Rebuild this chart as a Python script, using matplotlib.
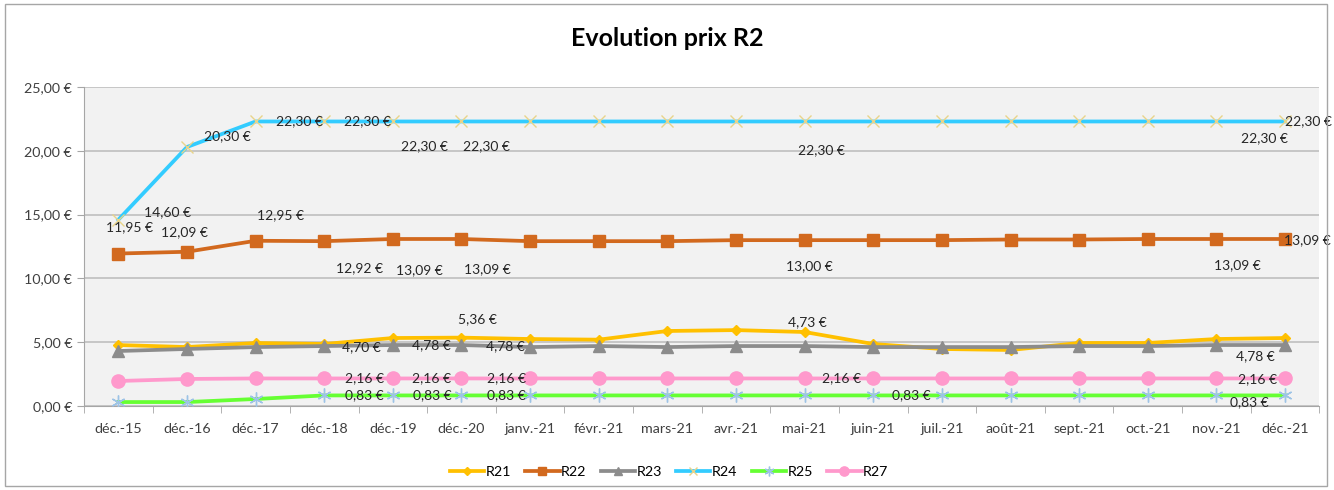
import matplotlib.pyplot as plt
from matplotlib.patches import Rectangle

months = ['déc.-15', 'déc.-16', 'déc.-17', 'déc.-18', 'déc.-19', 'déc.-20',
          'janv.-21', 'févr.-21', 'mars-21', 'avr.-21', 'mai-21', 'juin-21',
          'juil.-21', 'août-21', 'sept.-21', 'oct.-21', 'nov.-21', 'déc.-21']

r21 = [4.78, 4.62, 4.94, 4.86, 5.33, 5.36, 5.25, 5.20, 5.88, 5.95, 5.80, 4.86,
       4.47, 4.39, 4.94, 4.94, 5.25, 5.33]
r22 = [11.95, 12.09, 12.95, 12.92, 13.09, 13.09, 12.92, 12.92, 12.92, 13.00, 13.00, 13.00,
       13.00, 13.05, 13.05, 13.09, 13.09, 13.09]
r23 = [4.31, 4.47, 4.62, 4.70, 4.78, 4.78, 4.62, 4.70, 4.62, 4.70, 4.70, 4.62,
       4.62, 4.62, 4.70, 4.70, 4.78, 4.78]
r24 = [14.60, 20.30, 22.30, 22.30, 22.30, 22.30, 22.30, 22.30, 22.30, 22.30, 22.30, 22.30,
       22.30, 22.30, 22.30, 22.30, 22.30, 22.30]
r25 = [0.31, 0.31, 0.55, 0.83, 0.83, 0.83, 0.83, 0.83, 0.83, 0.83, 0.83, 0.83,
       0.83, 0.83, 0.83, 0.83, 0.83, 0.83]
r27 = [1.96, 2.12, 2.16, 2.16, 2.16, 2.16, 2.16, 2.16, 2.16, 2.16, 2.16, 2.16,
       2.16, 2.16, 2.16, 2.16, 2.16, 2.16]

# labelled points: (series, index, text, dx px, dy px)
labels = [
    ('R22', 0, '11,95 €', 11, 26), ('R22', 1, '12,09 €', -3, 20),
    ('R22', 2, '12,95 €', 25, 26), ('R22', 3, '12,92 €', 35, -27),
    ('R22', 4, '13,09 €', 27, -31), ('R22', 5, '13,09 €', 26, -30),
    ('R22', 10, '13,00 €', 5, -26), ('R22', 16, '13,09 €', 21, -26),
    ('R22', 17, '13,09 €', 22, -1),
    ('R24', 0, '14,60 €', 49, 8), ('R24', 1, '20,30 €', 40, 11),
    ('R24', 2, '22,30 €', 44, 0), ('R24', 3, '22,30 €', 43, 0),
    ('R24', 4, '22,30 €', 32, -25), ('R24', 5, '22,30 €', 25, -25),
    ('R24', 10, '22,30 €', 17, -29), ('R24', 16, '22,30 €', 48, -17),
    ('R24', 17, '22,30 €', 23, 0),
    ('R21', 5, '5,36 €', 16, 18), ('R21', 10, '4,73 €', 3, 10),
    ('R23', 3, '4,70 €', 37, -1), ('R23', 4, '4,78 €', 39, 0),
    ('R23', 5, '4,78 €', 44, -1), ('R23', 16, '4,78 €', 39, -11),
    ('R27', 3, '2,16 €', 40, 0), ('R27', 4, '2,16 €', 39, 0),
    ('R27', 5, '2,16 €', 45, 0), ('R27', 10, '2,16 €', 37, 0),
    ('R27', 16, '2,16 €', 41, -1),
    ('R25', 3, '0,83 €', 40, 0), ('R25', 4, '0,83 €', 39, 0),
    ('R25', 5, '0,83 €', 45, 0), ('R25', 11, '0,83 €', 38, 0),
    ('R25', 16, '0,83 €', 33, -7),
]

plt.rcParams['font.family'] = ['Lato', 'DejaVu Sans']

fig = plt.figure(figsize=(13.34, 4.9), dpi=100)
fig.patches.append(Rectangle((0.004, 0.008), 0.991, 0.984, transform=fig.transFigure,
                             fill=False, edgecolor='#A6A6A6', lw=1))
ax = fig.add_axes([0.063, 0.1714, 0.926, 0.651])
ax.set_facecolor('#F2F2F2')

x = list(range(len(months)))
series = {
    'R21': (r21, dict(color='#FFC000', marker='D', ms=5.5, mfc='#FFC000', mec='#FFC000')),
    'R22': (r22, dict(color='#D2691E', marker='s', ms=9, mfc='#D2691E', mec='#D2691E')),
    'R23': (r23, dict(color='#8C8C8C', marker='^', ms=8.5, mfc='#8C8C8C', mec='#8C8C8C')),
    'R24': (r24, dict(color='#33CCFF', marker='x', ms=9, mfc='none', mec='#E8D48A', mew=1)),
    'R25': (r25, dict(color='#66FF33', marker='*', ms=0.1, mfc='none', mec='#9DC3E6')),
    'R27': (r27, dict(color='#FF99CC', marker='o', ms=9.5, mfc='#FF99CC', mec='#FF99CC')),
}
for name, (vals, st) in series.items():
    ax.plot(x, vals, lw=2.7, label=name, zorder=3, **st)
# asterisk markers for R25
ax.plot(x, r25, ls='none', marker=(6, 2, 0), ms=10, mec='#9DC3E6', mew=1, zorder=4)

for name, i, txt, dx, dy in labels:
    ax.annotate(txt, (x[i], series[name][0][i]), xytext=(dx, dy), textcoords='offset pixels',
                ha='center', va='center', fontsize=10, color='#262626', zorder=5)

ax.set_xlim(-0.5, len(months) - 0.5)
ax.set_ylim(0, 25)
ax.set_yticks([0, 5, 10, 15, 20, 25])
ax.set_yticklabels(['0,00 €', '5,00 €', '10,00 €', '15,00 €', '20,00 €', '25,00 €'])
ax.set_xticks(x)
ax.set_xticklabels(months)
ax.set_xticks([i - 0.5 for i in range(len(months) + 1)], minor=True)
ax.tick_params(axis='x', which='major', length=0, pad=12, labelsize=10.3, labelcolor='#404040')
ax.tick_params(axis='x', which='minor', length=5, color='#A6A6A6')
ax.tick_params(axis='y', length=5, color='#A6A6A6', labelsize=10.3, labelcolor='#404040')
ax.grid(axis='y', color='#BFBFBF', lw=1.2, zorder=0)
ax.set_axisbelow(True)
for s in ['top', 'right']:
    ax.spines[s].set_visible(False)
for s in ['left', 'bottom']:
    ax.spines[s].set_color('#A6A6A6')

fig.text(0.5, 0.922, 'Evolution prix R2', ha='center', va='center', fontsize=18, fontweight='bold')

h, l = ax.get_legend_handles_labels()
leg = fig.legend(h, l, loc='center', bbox_to_anchor=(0.5015, 0.037), ncol=6, frameon=False,
                 fontsize=10.3, handlelength=2.4, columnspacing=1.0, handletextpad=0.1,
                 markerscale=0.7)
# put proper asterisk in R25 legend handle
leg.legend_handles[4].set_marker((6, 2, 0))
leg.legend_handles[4].set_markersize(7)
leg.legend_handles[4].set_markeredgecolor('#9DC3E6')

fig.savefig('out.png', dpi=100)
